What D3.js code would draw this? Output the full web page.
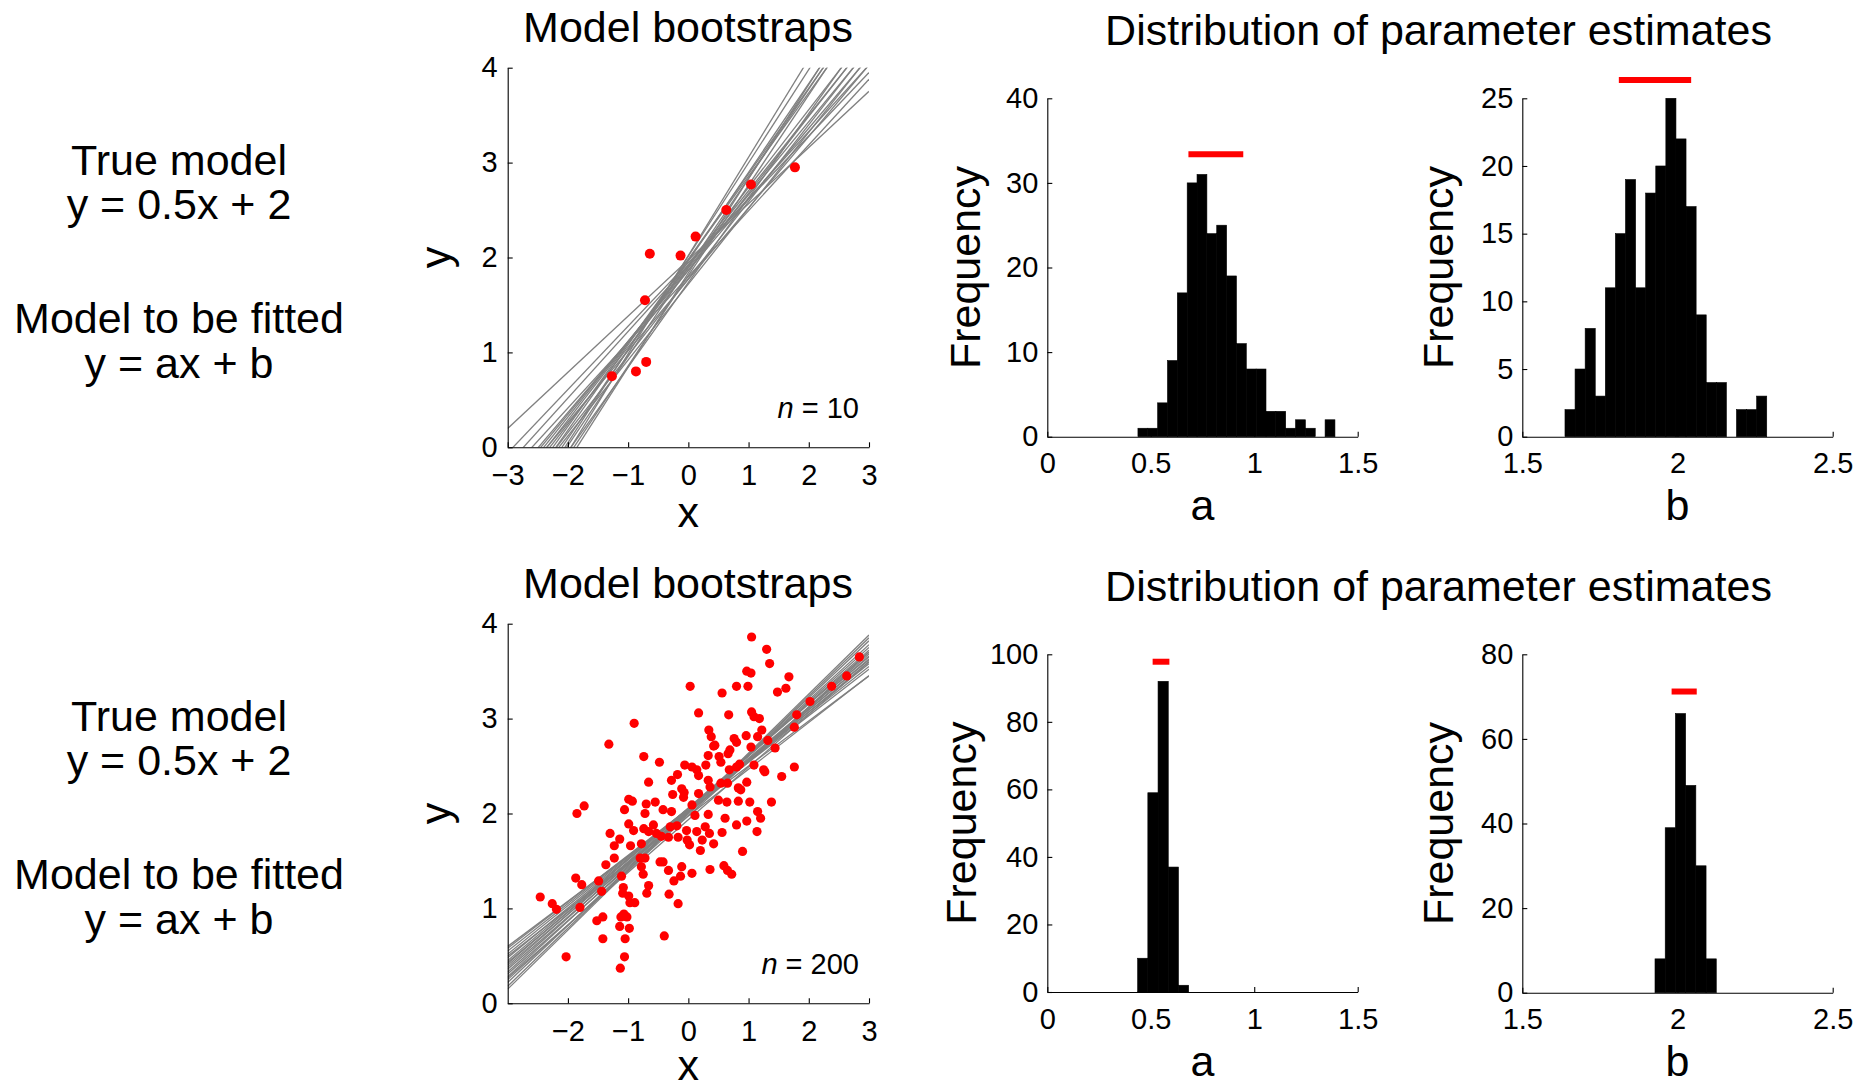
<!DOCTYPE html>
<html><head><meta charset="utf-8">
<script src="https://cdn.jsdelivr.net/npm/d3@7"></script>
<style>
body{margin:0;background:#fff;}
svg text{font-family:"Liberation Sans",Arial,Helvetica,sans-serif;fill:#000;}
</style></head><body>
<svg id="c" width="1874" height="1084"></svg>
<script>
// ---------- data ----------
const topPoints = [[-1.27,0.75],[-0.87,0.80],[-0.70,0.90],[-0.72,1.55],[-0.64,2.04],[-0.13,2.02],[0.12,2.22],[0.63,2.50],[1.04,2.77],[1.77,2.95]];
const topLineA = [0.592,0.668,0.702,0.749,0.771,0.795,0.818,0.811,0.879,0.901,0.811,0.935,0.983,0.939,1.036,0.952,0.993,0.80,0.753,0.891,0.693];
const topLineB = [1.975,1.945,1.923,1.865,1.889,1.909,1.922,1.866,1.978,1.982,1.777,1.963,2.015,1.897,2.021,1.810,1.837,1.72,1.77,1.737,1.80];

const bottomPoints = [
[-2.46,1.12],[-2.26,1.05],[-2.19,0.99],[-2.03,0.49],[-1.85,2.00],[-1.73,2.08],[-1.87,1.32],[-1.77,1.25],[-1.80,1.01],[-1.49,1.29],
[-1.44,1.18],[-1.52,0.87],[-1.42,0.91],[-1.42,0.68],[-1.32,2.73],[-1.30,1.79],[-1.37,1.46],[-1.23,1.53],[-1.23,1.66],[-1.14,1.73],
[-1.11,1.34],[-1.08,1.22],[-1.09,1.16],[-0.99,1.13],[-0.97,1.06],[-0.89,1.06],[-1.12,0.91],[-1.07,0.94],[-1.02,0.91],[-1.14,0.81],
[-0.98,0.79],[-1.05,0.68],[-1.06,0.49],[-1.13,0.37],[-0.99,2.15],[-0.93,2.13],[-1.06,2.04],[-0.99,1.89],[-0.91,1.82],[-0.96,1.66],
[-0.90,2.95],[-0.78,1.68],[-0.74,2.60],[-0.66,2.33],[-0.70,2.10],[-0.72,2.00],[-0.74,1.84],[-0.66,1.81],[-0.80,1.53],[-0.72,1.53],
[-0.78,1.44],[-0.75,1.36],[-0.66,1.24],[-0.69,1.16],[-0.48,2.54],[-0.55,2.12],[-0.58,1.88],[-0.53,1.79],[-0.45,1.76],[-0.42,2.04],
[-0.47,1.49],[-0.42,1.49],[-0.40,0.71],[-0.33,1.40],[-0.32,1.15],[-0.28,2.35],[-0.26,2.20],[-0.28,2.02],[-0.30,1.86],[-0.33,1.75],
[-0.24,1.29],[-0.18,2.41],[-0.19,1.87],[-0.17,1.75],[-0.17,1.05],[-0.11,2.26],[-0.07,2.22],[-0.08,2.17],[-0.11,1.44],[-0.13,1.34],
[-0.06,2.51],[-0.03,1.82],[-0.02,1.72],[0.02,1.67],[0.03,3.34],[0.06,2.49],[0.06,2.09],[0.11,1.98],[0.06,1.37],[0.14,2.46],
[0.17,2.40],[0.17,2.21],[0.17,3.06],[0.14,1.81],[0.20,1.61],[0.23,1.72],[0.28,1.86],[0.29,2.51],[0.33,2.61],[0.34,2.88],
[0.38,2.81],[0.42,2.71],[0.44,2.72],[0.33,2.35],[0.36,2.28],[0.33,1.99],[0.35,1.79],[0.42,1.68],[0.36,1.41],[0.51,2.60],
[0.56,3.27],[0.54,2.54],[0.50,2.14],[0.54,2.32],[0.56,1.80],[0.61,1.95],[0.59,1.45],[0.64,2.12],[0.67,3.04],[0.66,2.63],
[0.69,2.67],[0.65,2.32],[0.68,2.46],[0.65,1.40],[0.72,1.36],[0.80,3.34],[0.76,2.79],[0.80,2.75],[0.80,2.49],[0.85,2.52],
[0.83,2.27],[0.87,2.25],[0.83,2.13],[0.80,1.88],[0.90,1.60],[0.97,3.50],[1.04,3.48],[1.05,3.86],[0.99,3.34],[0.96,2.82],
[1.04,2.70],[0.97,2.33],[1.02,2.12],[0.97,1.92],[1.05,3.07],[1.09,3.02],[1.18,3.00],[1.15,2.81],[1.22,2.88],[1.09,2.51],
[1.15,2.02],[1.20,1.95],[1.14,1.81],[1.25,2.46],[1.27,2.44],[1.30,3.73],[1.35,3.58],[1.32,2.77],[1.44,2.69],[1.38,2.12],
[1.48,3.28],[1.55,2.39],[1.62,3.32],[1.67,3.44],[1.80,3.04],[1.76,2.91],[1.76,2.49],[2.02,3.18],[2.38,3.34],[2.63,3.45],[2.84,3.65]
];
const bottomLineA = [0.475,0.49,0.50,0.51,0.492,0.523,0.533,0.528,0.547,0.538,0.557,0.55,0.57,0.562,0.583,0.575,0.60,0.612,0.622,0.555];
const bottomLineB = [2.025,2.05,2.05,2.05,1.975,2.05,2.05,2.015,2.06,2.015,2.05,2.01,2.04,1.995,2.03,1.975,2.02,2.015,2.015,1.935];

const topACounts = [1,1,4,9,17,30,31,24,25,19,11,8,8,3,3,1,2,1,0,2];
const topABins = [0.438, 0.0476];           // first edge, bin width
const topBCounts = [2,5,8,3,11,15,19,11,18,20,25,22,17,9,4,4,0,2,2,3];
const topBBins = [1.6375, 0.0325];
const bottomACounts = [10,59,92,37,2];
const bottomABins = [0.4366, 0.0493];
const bottomBCounts = [8,39,66,49,30,8];
const bottomBBins = [1.9275, 0.0329];

const topACI = [0.682, 0.947, 33.4];
const topBCI = [1.811, 2.044, 26.35];
const bottomACI = [0.509, 0.590, 97.8];
const bottomBCI = [1.981, 2.062, 71.2];

const xTicksTop = [-3,-2,-1,0,1,2,3];
const xTicksBottom = [-2,-1,0,1,2,3];
const yTicksScatter = [0,1,2,3,4];
const aTicks = [0,0.5,1,1.5];
const bTicks = [1.5,2,2.5];
const topAYTicks = [0,10,20,30,40];
const topBYTicks = [0,5,10,15,20,25];
const bottomAYTicks = [0,20,40,60,80,100];
const bottomBYTicks = [0,20,40,60,80];

const leftTexts = ["True model","y = 0.5x + 2","Model to be fitted","y = ax + b"];
const titles = ["Model bootstraps","Distribution of parameter estimates"];

// ---------- drawing ----------
const svg = d3.select("#c");
const OFF = 556;
const TICKFS = 29, BIGFS = 43;

function styleAxis(g, fs){
  g.selectAll("path.domain").attr("stroke","#000").attr("stroke-width",1.1);
  g.selectAll(".tick line").attr("stroke","#000").attr("stroke-width",1.1);
  g.selectAll(".tick text").attr("font-size",fs).attr("font-family",'"Liberation Sans",Arial,sans-serif').attr("fill","#000");
}

function scatterPanel(off, pts, la, lb, xt, nNum, r, idx){
  const x = d3.scaleLinear().domain([-3,3]).range([507.7,869]);
  const y = d3.scaleLinear().domain([0,4]).range([447.3+off,67.7+off]);
  const g = svg.append("g");
  g.append("clipPath").attr("id","clip"+idx).append("rect")
    .attr("x",x(-3)).attr("y",y(4)).attr("width",x(3)-x(-3)).attr("height",y(0)-y(4));
  const lines = la.map((a,i)=>({a:a,b:lb[i]}));
  g.append("g").attr("clip-path","url(#clip"+idx+")").selectAll("line").data(lines).join("line")
    .attr("x1",x(-3)).attr("y1",d=>y(d.a*-3+d.b))
    .attr("x2",x(3)).attr("y2",d=>y(d.a*3+d.b))
    .attr("stroke","#808080").attr("stroke-width",1.3);
  g.append("g").selectAll("circle").data(pts).join("circle")
    .attr("cx",d=>x(d[0])).attr("cy",d=>y(d[1])).attr("r",r).attr("fill","#ff0000");
  const xa = g.append("g").attr("transform",`translate(0,${y(0)})`)
    .call(d3.axisBottom(x).tickValues(xt).tickSizeInner(-5).tickSizeOuter(0).tickPadding(17.5).tickFormat(d3.format("d")));
  styleAxis(xa, TICKFS);
  const ya = g.append("g").attr("transform",`translate(${x(-3)},0)`)
    .call(d3.axisLeft(y).tickValues(yTicksScatter).tickSizeInner(-5).tickSizeOuter(0).tickPadding(10).tickFormat(d3.format("d")));
  styleAxis(ya, TICKFS);
  g.append("text").attr("x",(x(-3)+x(3))/2).attr("y",Math.min(526.7+off,1080)).attr("text-anchor","middle").attr("font-size",BIGFS).text("x");
  g.append("text").attr("transform",`translate(450,${(y(0)+y(4))/2}) rotate(-90)`).attr("text-anchor","middle").attr("font-size",BIGFS).text("y");
  const t = g.append("text").attr("x",859).attr("y",(nNum===10?418:974)).attr("text-anchor","end").attr("font-size",29);
  t.append("tspan").attr("font-style","italic").text("n");
  t.append("tspan").text(" = "+nNum);
}

function histPanel(xDom, xRange, yMax, y0, y1, counts, bins, xt, yt, ci, label, freqX){
  const x = d3.scaleLinear().domain(xDom).range(xRange);
  const y = d3.scaleLinear().domain([0,yMax]).range([y0,y1]);
  const g = svg.append("g");
  const bars = counts.map((c,i)=>({x0:bins[0]+i*bins[1], x1:bins[0]+(i+1)*bins[1], c:c})).filter(d=>d.c>0);
  g.append("g").selectAll("rect").data(bars).join("rect")
    .attr("x",d=>x(d.x0)).attr("width",d=>x(d.x1)-x(d.x0))
    .attr("y",d=>y(d.c)).attr("height",d=>y(0)-y(d.c))
    .attr("fill","#000").attr("stroke","#000").attr("stroke-width",0.6);
  g.append("line").attr("x1",x(ci[0])).attr("x2",x(ci[1])).attr("y1",y(ci[2])).attr("y2",y(ci[2]))
    .attr("stroke","#ff0000").attr("stroke-width",6);
  const xa = g.append("g").attr("transform",`translate(0,${y(0)})`)
    .call(d3.axisBottom(x).tickValues(xt).tickSizeInner(-5).tickSizeOuter(0).tickPadding(16).tickFormat(d=>String(d)));
  styleAxis(xa, TICKFS);
  const ya = g.append("g").attr("transform",`translate(${xRange[0]},0)`)
    .call(d3.axisLeft(y).tickValues(yt).tickSizeInner(-5).tickSizeOuter(0).tickPadding(9).tickFormat(d=>String(d)));
  styleAxis(ya, TICKFS);
  g.append("text").attr("x",(xRange[0]+xRange[1])/2).attr("y",y0+83.5).attr("text-anchor","middle").attr("font-size",BIGFS).text(label);
  g.append("text").attr("transform",`translate(${freqX},${(y0+y1)/2}) rotate(-90)`).attr("text-anchor","middle").attr("font-size",BIGFS).text("Frequency");
}

// left texts and titles
[0, OFF].forEach(off=>{
  const ys = [175,219,333.3,378.3];
  leftTexts.forEach((t,i)=>{
    svg.append("text").attr("x",179).attr("y",ys[i]+off).attr("text-anchor","middle").attr("font-size",BIGFS).text(t);
  });
  svg.append("text").attr("x",688).attr("y",42+off).attr("text-anchor","middle").attr("font-size",BIGFS).text(titles[0]);
  svg.append("text").attr("x",1438.5).attr("y",45+off).attr("text-anchor","middle").attr("font-size",BIGFS).text(titles[1]);
});

scatterPanel(0, topPoints, topLineA, topLineB, xTicksTop, 10, 5, 1);
scatterPanel(OFF, bottomPoints, bottomLineA, bottomLineB, xTicksBottom, 200, 4.6, 2);

histPanel([0,1.5],[1047.3,1357.7],40,436.7,98.3,topACounts,topABins,aTicks,topAYTicks,topACI,"a",980);
histPanel([1.5,2.5],[1522.3,1832.7],25,436.7,98.3,topBCounts,topBBins,bTicks,topBYTicks,topBCI,"b",1453);
histPanel([0,1.5],[1047.3,1357.7],100,992,654.3,bottomACounts,bottomABins,aTicks,bottomAYTicks,bottomACI,"a",976);
histPanel([1.5,2.5],[1522.3,1832.7],80,992.7,654.3,bottomBCounts,bottomBBins,bTicks,bottomBYTicks,bottomBCI,"b",1453);
</script>
</body></html>
